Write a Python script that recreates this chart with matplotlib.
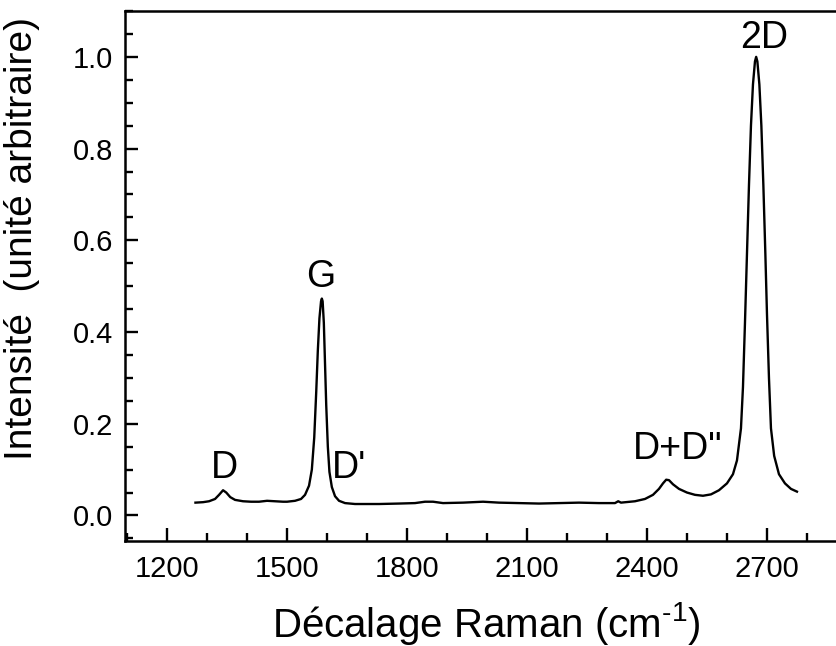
import matplotlib
matplotlib.use("Agg")
import matplotlib.pyplot as plt
from matplotlib.ticker import MultipleLocator

plt.rcParams["font.family"] = ["Liberation Sans", "DejaVu Sans"]
plt.rcParams["mathtext.fontset"] = "custom"
plt.rcParams["mathtext.rm"] = "Liberation Sans"
plt.rcParams["mathtext.it"] = "Liberation Sans"

# Raman shift (cm-1) and normalised intensity
shift = [
    1271, 1290, 1305, 1320, 1330, 1340, 1348, 1358, 1370, 1390,
    1410, 1430, 1450, 1470, 1490, 1500, 1520, 1535, 1545, 1555,
    1562, 1568, 1573, 1577, 1581, 1585, 1587, 1589, 1592, 1595,
    1598, 1602, 1606, 1612, 1620, 1630, 1645, 1670, 1690, 1730,
    1780, 1820, 1845, 1865, 1890, 1940, 1990, 2030, 2080, 2130,
    2180, 2230, 2280, 2320, 2328, 2335, 2370, 2395, 2415, 2430,
    2440, 2448, 2455, 2465, 2480, 2500, 2520, 2540, 2560, 2580,
    2600, 2615, 2625, 2635, 2640, 2645, 2650, 2655, 2660, 2665,
    2670, 2673, 2676, 2681, 2686, 2691, 2696, 2700, 2705, 2710,
    2718, 2730, 2745, 2760, 2775,
]
intensity = [
    0.028, 0.029, 0.031, 0.036, 0.045, 0.055, 0.050, 0.040, 0.034, 0.031,
    0.030, 0.030, 0.032, 0.031, 0.030, 0.030, 0.032, 0.036, 0.045, 0.065,
    0.100, 0.170, 0.270, 0.360, 0.430, 0.467, 0.473, 0.467, 0.420, 0.330,
    0.240, 0.150, 0.095, 0.062, 0.042, 0.032, 0.027, 0.025, 0.025, 0.025,
    0.026, 0.027, 0.030, 0.030, 0.027, 0.028, 0.030, 0.028, 0.027, 0.026,
    0.027, 0.028, 0.027, 0.027, 0.031, 0.028, 0.031, 0.036, 0.045, 0.058,
    0.070, 0.078, 0.077, 0.068, 0.058, 0.050, 0.045, 0.043, 0.046, 0.055,
    0.070, 0.090, 0.120, 0.190, 0.280, 0.420, 0.570, 0.720, 0.850, 0.940,
    0.990, 1.000, 0.990, 0.940, 0.850, 0.720, 0.570, 0.440, 0.300, 0.190,
    0.130, 0.090, 0.070, 0.058, 0.052,
]

peak_names = ["D", "G", "D'", 'D+D"', "2D"]
peak_x = [1344, 1585, 1656, 2477, 2693]
peak_y = [0.103, 0.52, 0.103, 0.146, 1.040]

fig = plt.figure(figsize=(8.37, 6.46), dpi=100)
ax = fig.add_axes([0.1499, 0.163, 0.8596, 0.820])

ax.plot(shift, intensity, color="black", lw=1.7)

for name, px, py in zip(peak_names, peak_x, peak_y):
    ax.text(px, py, name, fontsize=27, ha="center", va="center")

ax.set_xlim(1096, 2895)
ax.set_ylim(-0.055, 1.10)
ax.xaxis.set_major_locator(MultipleLocator(300))
ax.xaxis.set_minor_locator(MultipleLocator(100))
ax.yaxis.set_major_locator(MultipleLocator(0.2))
ax.yaxis.set_minor_locator(MultipleLocator(0.05))
ax.yaxis.set_major_formatter(plt.FuncFormatter(lambda v, p: f"{v:.1f}"))

ax.tick_params(which="both", direction="in", width=1.7, top=False, right=False)
ax.tick_params(which="major", length=9.5, labelsize=21)
ax.tick_params(axis="x", which="major", pad=10)
ax.tick_params(axis="y", which="major", pad=9)
ax.tick_params(which="minor", length=5.5)
for s in ax.spines.values():
    s.set_linewidth(1.8)

fig.text(486 / 837, 1 - 637 / 646, r"Décalage Raman (cm$^{\text{-1}}$)",
         fontsize=29, ha="center", va="baseline")
fig.text(22 / 837, 1 - 238 / 646, "Intensité  (unité arbitraire)",
         fontsize=28, ha="center", va="center", rotation=90)

fig.savefig("out.png", dpi=100)
